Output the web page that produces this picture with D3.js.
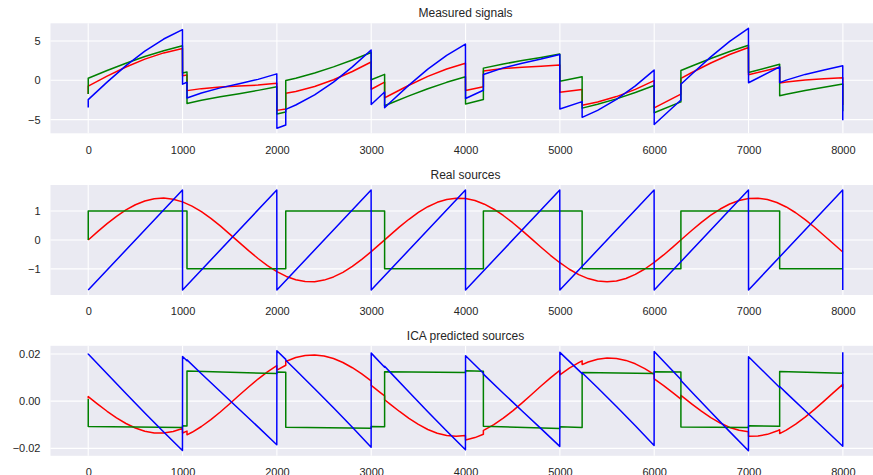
<!DOCTYPE html>
<html><head><meta charset="utf-8">
<script src="https://cdn.jsdelivr.net/npm/d3@7"></script>
<style>
body{margin:0;background:#fff;}
text{font-family:"Liberation Sans",Arial,sans-serif;}
</style>
</head><body>
<svg id="chart" width="873" height="475"></svg>
<script>
// ---------- data ----------
const xTickValues = [0,1000,2000,3000,4000,5000,6000,7000,8000];
const panelTitles = ["Measured signals","Real sources","ICA predicted sources"];
const yTicksMeasured = [-5,0,5];
const yTicksReal = [-1,0,1];
const yTicksPred = [-0.02,0,0.02];
const seriesColors = ["#ff0000","#008000","#0000ff"];

const measuredRed = [[0,-1.732],[0,-0.732],[200,0.525],[400,1.693],[600,2.696],[800,3.487],[999,4.049],[1000,0.585],[1047,0.686],[1047,-1.314],[1200,-1.060],[1400,-0.861],[1600,-0.739],[1800,-0.602],[1999,-0.364],[2000,-3.828],[2094,-3.661],[2094,-1.661],[2200,-1.418],[2400,-0.789],[2600,0.066],[2800,1.124],[2999,2.327],[3000,-1.137],[3142,-0.240],[3142,-2.240],[3200,-1.870],[3400,-0.630],[3600,0.496],[3800,1.441],[3999,2.165],[4000,-1.299],[4189,-0.822],[4189,1.178],[4400,1.501],[4600,1.669],[4800,1.786],[4999,1.944],[5000,-1.520],[5236,-1.169],[5236,-3.169],[5400,-2.767],[5600,-2.073],[5800,-1.153],[5999,-0.045],[6000,-3.509],[6283,-1.752],[6283,0.248],[6400,0.989],[6600,2.204],[6800,3.284],[6999,4.167],[7000,0.703],[7330,1.666],[7330,-0.334],[7400,-0.204],[7600,0.051],[7800,0.195],[7999,0.315],[7999,-3.149]];
const measuredGreen = [[0,-1.732],[0,0.268],[200,1.243],[400,2.174],[600,3.021],[800,3.763],[999,4.391],[1000,0.927],[1047,1.059],[1047,-2.941],[1200,-2.549],[1400,-2.103],[1600,-1.697],[1800,-1.282],[1999,-0.816],[2000,-4.280],[2094,-4.034],[2094,-0.034],[2200,0.271],[2400,0.932],[2600,1.706],[2800,2.581],[2999,3.529],[3000,0.065],[3142,0.760],[3142,-3.240],[3200,-2.954],[3400,-1.988],[3600,-1.079],[3800,-0.260],[3999,0.449],[4000,-3.015],[4189,-2.449],[4189,1.551],[4400,2.078],[4600,2.508],[4800,2.912],[4999,3.338],[5000,-0.126],[5236,0.458],[5236,-3.542],[5400,-3.057],[5600,-2.364],[5800,-1.557],[5999,-0.657],[6000,-4.121],[6283,-2.752],[6283,1.248],[6400,1.822],[6600,2.775],[6800,3.662],[6999,4.450],[7000,0.986],[7330,2.039],[7330,-1.961],[7400,-1.775],[7600,-1.301],[7800,-0.883],[7999,-0.477],[7999,-3.941]];
const measuredBlue = [[0,-3.464],[0,-2.464],[200,-0.232],[400,1.867],[600,3.717],[800,5.250],[999,6.440],[1000,-0.488],[1047,-0.255],[1047,-2.255],[1200,-1.609],[1400,-0.964],[1600,-0.436],[1800,0.116],[1999,0.820],[2000,-6.108],[2094,-5.695],[2094,-3.695],[2200,-3.147],[2400,-1.857],[2600,-0.228],[2800,1.705],[2999,3.856],[3000,-3.072],[3142,-1.480],[3142,-3.480],[3200,-2.824],[3400,-0.618],[3600,1.417],[3800,3.181],[3999,4.614],[4000,-2.314],[4189,-1.271],[4189,0.729],[4400,1.579],[4600,2.177],[4800,2.698],[4999,3.282],[5000,-3.646],[5236,-2.711],[5236,-4.711],[5400,-3.824],[5600,-2.437],[5800,-0.710],[5999,1.298],[6000,-5.630],[6283,-2.504],[6283,-0.504],[6400,0.811],[6600,2.979],[6800,4.946],[6999,6.617],[7000,-0.311],[7330,1.705],[7330,-0.295],[7400,0.021],[7600,0.750],[7800,1.312],[7999,1.838],[7999,-5.090]];

const realSine = [[0,0],[100,0.288],[200,0.564],[300,0.818],[400,1.039],[500,1.219],[600,1.350],[700,1.428],[800,1.448],[900,1.411],[1000,1.317],[1100,1.171],[1200,0.979],[1300,0.747],[1400,0.485],[1500,0.204],[1600,-0.085],[1700,-0.370],[1800,-0.641],[1900,-0.887],[2000,-1.096],[2100,-1.263],[2200,-1.379],[2300,-1.440],[2400,-1.443],[2500,-1.389],[2600,-1.280],[2700,-1.120],[2800,-0.915],[2900,-0.673],[3000,-0.405],[3100,-0.120],[3200,0.169],[3300,0.451],[3400,0.716],[3500,0.952],[3600,1.150],[3700,1.302],[3800,1.402],[3900,1.447],[4000,1.433],[4100,1.363],[4200,1.238],[4300,1.064],[4400,0.847],[4500,0.597],[4600,0.323],[4700,0.036],[4800,-0.253],[4900,-0.531],[5000,-0.788],[5100,-1.014],[5200,-1.199],[5300,-1.337],[5400,-1.421],[5500,-1.449],[5600,-1.419],[5700,-1.332],[5800,-1.192],[5900,-1.005],[6000,-0.777],[6100,-0.519],[6200,-0.240],[6300,0.049],[6400,0.335],[6500,0.609],[6600,0.858],[6700,1.071],[6800,1.245],[6900,1.367],[7000,1.435],[7100,1.446],[7200,1.399],[7300,1.296],[7400,1.142],[7500,0.942],[7600,0.705],[7700,0.440],[7800,0.156],[7900,-0.133],[7999,-0.417]];
const realSquare = [[0,0],[0,1],[1047,1],[1047,-1],[2094,-1],[2094,1],[3142,1],[3142,-1],[4189,-1],[4189,1],[5236,1],[5236,-1],[6283,-1],[6283,1],[7330,1],[7330,-1],[7999,-1]];
const realSaw = [[0,-1.732],[999,1.729],[1000,-1.732],[1999,1.729],[2000,-1.732],[2999,1.729],[3000,-1.732],[3999,1.729],[4000,-1.732],[4999,1.729],[5000,-1.732],[5999,1.729],[6000,-1.732],[6999,1.729],[7000,-1.732],[7998,1.729],[7999,-1.732]];

const predRed = [[0,0.00114],[0,0.00194],[100,-0.00124],[200,-0.00428],[300,-0.00707],[400,-0.00947],[500,-0.01138],[600,-0.01273],[700,-0.01345],[800,-0.01350],[900,-0.01287],[999,-0.01158],[1000,-0.01348],[1047,-0.01267],[1047,-0.01427],[1100,-0.01318],[1200,-0.01074],[1300,-0.00784],[1400,-0.00458],[1500,-0.00110],[1600,0.00248],[1700,0.00600],[1800,0.00937],[1900,0.01244],[1999,0.01507],[2000,0.01317],[2094,0.01522],[2094,0.01682],[2100,0.01692],[2200,0.01847],[2300,0.01937],[2400,0.01960],[2500,0.01916],[2600,0.01807],[2700,0.01639],[2800,0.01417],[2900,0.01153],[2999,0.00858],[3000,0.00668],[3100,0.00354],[3142,0.00221],[3142,0.00061],[3200,-0.00126],[3300,-0.00437],[3400,-0.00728],[3500,-0.00986],[3600,-0.01199],[3700,-0.01358],[3800,-0.01456],[3900,-0.01489],[3999,-0.01454],[4000,-0.01644],[4100,-0.01543],[4189,-0.01400],[4189,-0.01240],[4200,-0.01218],[4300,-0.00995],[4400,-0.00722],[4500,-0.00410],[4600,-0.00070],[4700,0.00285],[4800,0.00642],[4900,0.00987],[4999,0.01307],[5000,0.01117],[5100,0.01400],[5200,0.01636],[5236,0.01709],[5236,0.01549],[5300,0.01657],[5400,0.01774],[5500,0.01826],[5600,0.01810],[5700,0.01727],[5800,0.01582],[5900,0.01382],[5999,0.01134],[6000,0.00944],[6100,0.00661],[6200,0.00353],[6283,0.00088],[6283,0.00248],[6300,0.00194],[6400,-0.00122],[6500,-0.00424],[6600,-0.00697],[6700,-0.00927],[6800,-0.01112],[6900,-0.01236],[6999,-0.01296],[7000,-0.01486],[7100,-0.01480],[7200,-0.01406],[7300,-0.01267],[7330,-0.01213],[7330,-0.01373],[7400,-0.01227],[7500,-0.00974],[7600,-0.00678],[7700,-0.00348],[7800,0.00003],[7900,0.00361],[7999,0.00712],[7999,0.00522]];
const predGreen = [[0,0.00095],[0,-0.01070],[999,-0.01114],[1000,-0.01044],[1047,-0.01049],[1047,0.01281],[1999,0.01168],[2000,0.01238],[2094,0.01228],[2094,-0.01102],[2999,-0.01148],[3000,-0.01078],[3142,-0.01080],[3142,0.01250],[3999,0.01219],[4000,0.01289],[4189,0.01272],[4189,-0.01058],[4999,-0.01156],[5000,-0.01086],[5236,-0.01112],[5236,0.01218],[5999,0.01174],[6000,0.01244],[6283,0.01240],[6283,-0.01090],[6999,-0.01111],[7000,-0.01041],[7330,-0.01068],[7330,0.01262],[7999,0.01182],[7999,0.01252]];
const predBlue = [[0,0.02022],[0,0.02002],[200,0.01158],[400,0.00321],[600,-0.00501],[800,-0.01307],[999,-0.02093],[1000,0.01891],[1047,0.01710],[1047,0.01750],[1200,0.01163],[1400,0.00407],[1600,-0.00341],[1800,-0.01091],[1999,-0.01850],[2000,0.02134],[2094,0.01772],[2094,0.01732],[2200,0.01321],[2400,0.00529],[2600,-0.00280],[2800,-0.01108],[2999,-0.01948],[3000,0.02036],[3142,0.01436],[3142,0.01476],[3200,0.01231],[3400,0.00388],[3600,-0.00445],[3800,-0.01263],[3999,-0.02062],[4000,0.01922],[4189,0.01184],[4189,0.01144],[4400,0.00337],[4600,-0.00415],[4800,-0.01164],[4999,-0.01916],[5000,0.02068],[5236,0.01167],[5236,0.01207],[5400,0.00567],[5600,-0.00229],[5800,-0.01045],[5999,-0.01877],[6000,0.02107],[6283,0.00915],[6283,0.00875],[6400,0.00380],[6600,-0.00460],[6800,-0.01290],[6999,-0.02103],[7000,0.01881],[7330,0.00582],[7330,0.00622],[7400,0.00352],[7600,-0.00407],[7800,-0.01158],[7999,-0.01907],[7999,0.02077]];

// ---------- layout ----------
const W = 873, H = 475;
const plotLeft = 50.5, plotRight = 880.5, plotH = 110;
const panelTops = [23.3, 185, 345.8];

const panels = [
  {title: panelTitles[0], series: [measuredRed, measuredGreen, measuredBlue], yTicks: yTicksMeasured, fmt: d3.format("d")},
  {title: panelTitles[1], series: [realSine, realSquare, realSaw], yTicks: yTicksReal, fmt: d3.format("d")},
  {title: panelTitles[2], series: [predRed, predGreen, predBlue], yTicks: yTicksPred, fmt: d3.format(".2f")}
];

function padded(ext){ const d = (ext[1]-ext[0])*0.05; return [ext[0]-d, ext[1]+d]; }

const svg = d3.select("#chart");
svg.append("rect").attr("width", W).attr("height", H).attr("fill", "#ffffff");

panels.forEach((p, i) => {
  const top = panelTops[i];
  const all = p.series.flat();
  const x = d3.scaleLinear().domain(padded(d3.extent(all, d => d[0]))).range([plotLeft, plotRight]);
  const y = d3.scaleLinear().domain(padded(d3.extent(all, d => d[1]))).range([top + plotH, top]);
  const g = svg.append("g");

  g.append("rect").attr("x", plotLeft).attr("y", top).attr("width", plotRight - plotLeft).attr("height", plotH).attr("fill", "#EAEAF2");

  // grid
  g.append("g").selectAll("line").data(xTickValues).join("line")
    .attr("x1", d => x(d)).attr("x2", d => x(d)).attr("y1", top).attr("y2", top + plotH)
    .attr("stroke", "#ffffff").attr("stroke-width", 1.1);
  g.append("g").selectAll("line").data(p.yTicks).join("line")
    .attr("x1", plotLeft).attr("x2", plotRight).attr("y1", d => y(d)).attr("y2", d => y(d))
    .attr("stroke", "#ffffff").attr("stroke-width", 1.1);

  // clip
  const cid = "clip" + i;
  svg.append("defs").append("clipPath").attr("id", cid)
    .append("rect").attr("x", plotLeft).attr("y", top).attr("width", plotRight - plotLeft).attr("height", plotH);

  const line = d3.line().x(d => x(d[0])).y(d => y(d[1]));
  const lg = g.append("g").attr("clip-path", `url(#${cid})`);
  p.series.forEach((s, k) => {
    lg.append("path").datum(s).attr("d", line).attr("fill", "none")
      .attr("stroke", seriesColors[k]).attr("stroke-width", 1.5)
      .attr("stroke-linejoin", "round");
  });

  // axes
  const xa = g.append("g").attr("transform", `translate(0,${top + plotH})`)
    .call(d3.axisBottom(x).tickValues(xTickValues).tickSize(0).tickPadding(12.6).tickFormat(d3.format("d")));
  const ya = g.append("g").attr("transform", `translate(${plotLeft},0)`)
    .call(d3.axisLeft(y).tickValues(p.yTicks).tickSize(0).tickPadding(10).tickFormat(p.fmt));
  [xa, ya].forEach(a => {
    a.select(".domain").remove();
    a.selectAll("text").attr("font-size", 11).attr("fill", "#262626")
      .attr("font-family", "'Liberation Sans', Arial, sans-serif");
  });

  g.append("text").attr("x", (plotLeft + plotRight) / 2).attr("y", top - 6)
    .attr("text-anchor", "middle").attr("font-size", 12).attr("fill", "#262626")
    .text(p.title);
});
</script>
</body></html>
